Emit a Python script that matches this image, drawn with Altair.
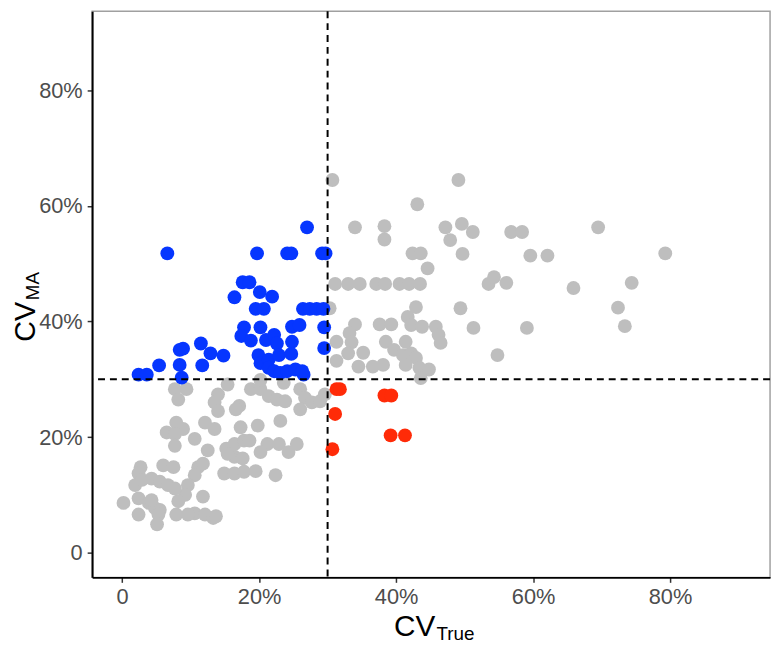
import altair as alt
import pandas as pd

# ---- data (values in percent) ----
grey_x = [7.7, 9.4, 8.2, 14.0, 13.5, 14.0, 15.4, 17.1, 16.6, 18.8, 20.2, 21.4, 22.6, 23.8, 26.0, 26.7, 26.0, 27.7, 28.9, 29.6,
          23.1, 19.8, 17.3, 12.1, 13.5, 7.9, 8.9, 6.5, 7.7, 7.7, 10.6, 12.5, 15.2, 16.4, 17.8, 18.6, 16.4, 17.6, 15.4, 21.2,
          22.9, 24.3, 25.5, 20.2, 14.9, 16.4, 17.8, 19.5, 22.4, 2.7, 2.4, 6.0, 7.5, 11.1, 11.8, 10.6, 9.6, 9.2, 8.2, 7.9,
          1.9, 2.9, 4.3, 5.5, 6.7, 7.7, 0.2, 2.4, 3.9, 4.8, 5.5, 5.3, 5.1, 2.4, 4.3, 11.8, 10.6, 12.1, 13.3, 13.7, 9.6,
          23.6, 20.2,
          30.7, 49.1, 43.1, 34.0, 38.3, 38.3, 47.2, 47.9, 49.6, 51.2, 42.4, 43.6, 49.7, 44.6, 31.1, 33.0, 34.7, 37.1, 38.4,
          40.5, 41.9, 43.5, 53.5, 30.3, 42.9, 49.4, 51.3, 34.0, 33.2, 33.5, 33.0, 35.2, 31.3, 31.3, 37.6, 39.3, 38.5, 39.7,
          41.0, 41.7, 42.2, 43.8, 45.8, 46.2, 46.5, 41.4, 42.2, 42.9, 34.5, 36.6, 38.1, 43.4, 44.8, 43.6, 41.4, 56.8, 58.4,
          59.6, 62.1, 69.5, 79.3, 54.3, 56.1, 65.9, 74.4, 72.4, 73.4, 59.1, 54.8]
grey_y = [28.3, 28.3, 26.5, 27.4, 26.0, 24.5, 29.1, 25.4, 24.8, 28.3, 28.3, 27.1, 26.5, 26.2, 28.3, 26.8, 24.8, 26.0, 26.2, 27.4,
          22.8, 22.0, 21.7, 22.5, 21.4, 22.5, 21.4, 20.8, 20.5, 18.5, 19.7, 17.7, 18.0, 18.8, 19.4, 19.4, 16.6, 16.3, 17.1, 18.8,
          18.8, 17.4, 18.8, 17.4, 13.7, 13.7, 14.0, 14.1, 13.4, 14.8, 13.7, 15.1, 14.8, 14.8, 15.4, 13.4, 11.7, 10.0, 8.9, 6.6,
          11.7, 12.6, 12.8, 12.3, 11.7, 11.1, 8.6, 9.4, 8.6, 7.7, 7.4, 6.6, 4.9, 6.6, 9.1, 9.7, 6.8, 6.6, 6.0, 6.3, 6.6,
          29.4, 29.9,
          64.5, 64.5, 60.3, 56.3, 56.5, 54.2, 56.3, 54.1, 56.9, 55.5, 51.8, 51.8, 51.7, 49.2, 46.5, 46.5, 46.5, 46.5, 46.5,
          46.5, 46.5, 46.5, 46.5, 42.3, 42.5, 42.3, 38.9, 39.5, 38.0, 36.4, 34.5, 34.6, 36.5, 33.2, 39.5, 39.5, 36.5, 35.1,
          34.2, 40.8, 39.4, 39.1, 39.1, 37.7, 36.3, 36.5, 34.5, 33.7, 32.2, 32.2, 32.5, 32.0, 31.7, 30.2, 32.5, 55.5, 55.5,
          51.4, 51.4, 56.3, 51.8, 47.7, 46.7, 45.8, 46.7, 42.4, 39.2, 38.9, 34.2]

blue_x = [6.6, 19.7, 24.1, 24.7, 29.2, 29.7, 27.0, 17.6, 18.6, 16.4, 20.1, 21.9, 19.5, 20.7, 26.4, 27.4, 28.4, 29.4,
          17.8, 20.2, 24.8, 25.9, 29.5, 17.4, 18.8, 21.0, 22.2, 22.6, 24.8, 29.5, 11.5, 8.9, 8.4, 12.9, 14.8, 19.9,
          20.2, 21.4, 22.9, 24.7, 5.4, 8.4, 11.7, 2.4, 3.6, 8.7, 21.4, 22.2, 23.1, 24.1, 25.3, 26.5, 26.3]
blue_y = [51.8, 51.8, 51.8, 51.8, 51.8, 51.8, 56.3, 46.8, 46.8, 44.2, 45.1, 44.3, 42.2, 42.2, 42.2, 42.2, 42.2, 42.2,
          39.0, 39.0, 39.1, 39.4, 39.0, 37.5, 36.7, 36.8, 37.7, 36.2, 36.5, 35.4, 36.2, 35.3, 35.1, 34.5, 34.1, 34.2,
          32.8, 33.4, 34.2, 34.4, 32.4, 32.5, 32.4, 30.8, 30.8, 30.3, 32.0, 31.4, 31.1, 31.4, 31.7, 30.8, 31.4]

red_x = [31.3, 31.8, 38.3, 39.3, 31.1, 39.2, 41.3, 30.7]
red_y = [28.3, 28.3, 27.2, 27.2, 24.0, 20.3, 20.3, 17.9]

threshold = [30]
tick_values = [0, 20, 40, 60, 80]

groups = ["grey", "blue", "red"]
colors = ["#BEBEBE", "#0636FF", "#FF2B08"]

df = pd.DataFrame({
    "x": grey_x + blue_x + red_x,
    "y": grey_y + blue_y + red_y,
    "g": ["grey"] * len(grey_x) + ["blue"] * len(blue_x) + ["red"] * len(red_x),
    "o": [0] * len(grey_x) + [1] * len(blue_x) + [1] * len(red_x),
})

xscale = alt.Scale(domain=[-4.38, 94.6], nice=False, zero=False)
yscale = alt.Scale(domain=[-4.28, 93.7], nice=False, zero=False)
lab = "datum.value == 0 ? '0' : datum.value + '%'"

points = alt.Chart(df).mark_circle(size=195, opacity=1).encode(
    x=alt.X("x:Q", scale=xscale,
            axis=alt.Axis(values=tick_values, labelExpr=lab, title=None, grid=False, labelPadding=4)),
    y=alt.Y("y:Q", scale=yscale,
            axis=alt.Axis(values=tick_values, labelExpr=lab, title=None, grid=False, labelPadding=5)),
    color=alt.Color("g:N", scale=alt.Scale(domain=groups, range=colors), legend=None),
    order=alt.Order("o:Q"),
)

vline = alt.Chart(pd.DataFrame({"v": threshold})).mark_rule(
    color="black", strokeDash=[7, 5], strokeWidth=2
).encode(x=alt.X("v:Q", scale=xscale))
hline = alt.Chart(pd.DataFrame({"v": threshold})).mark_rule(
    color="black", strokeDash=[7, 5], strokeWidth=2
).encode(y=alt.Y("v:Q", scale=yscale))

font = "Liberation Sans"
tdf = pd.DataFrame({"k": [0]})
xt_main = alt.Chart(tdf).mark_text(text="CV", font=font, fontSize=30, align="left", baseline="alphabetic",
                                   color="black").encode(x=alt.value(305), y=alt.value(631))
xt_sub = alt.Chart(tdf).mark_text(text="True", font=font, fontSize=19, align="left", baseline="alphabetic",
                                  color="black").encode(x=alt.value(348), y=alt.value(635))
yt_main = alt.Chart(tdf).mark_text(text="CV", font=font, fontSize=29, align="left", baseline="alphabetic",
                                   angle=270, color="black").encode(x=alt.value(-58), y=alt.value(334))
yt_sub = alt.Chart(tdf).mark_text(text="MA", font=font, fontSize=19, align="left", baseline="alphabetic",
                                  angle=270, color="black").encode(x=alt.value(-54), y=alt.value(292))

chart = alt.layer(points, vline, hline, xt_main, xt_sub, yt_main, yt_sub).properties(
    width=685, height=572,
    autosize=alt.AutoSizeParams(type="none"),
    padding={"left": 85, "top": 0, "right": 5, "bottom": 64},
).configure_view(
    stroke="#a0a0a0", strokeWidth=1.5
).configure_axis(
    domainColor="black", domainWidth=2, tickColor="#333333", tickWidth=1.5, tickSize=5,
    labelFont=font, labelFontSize=22, labelColor="#4d4d4d",
)

chart.save("out.html", embed_options={"renderer": "svg", "actions": False})
